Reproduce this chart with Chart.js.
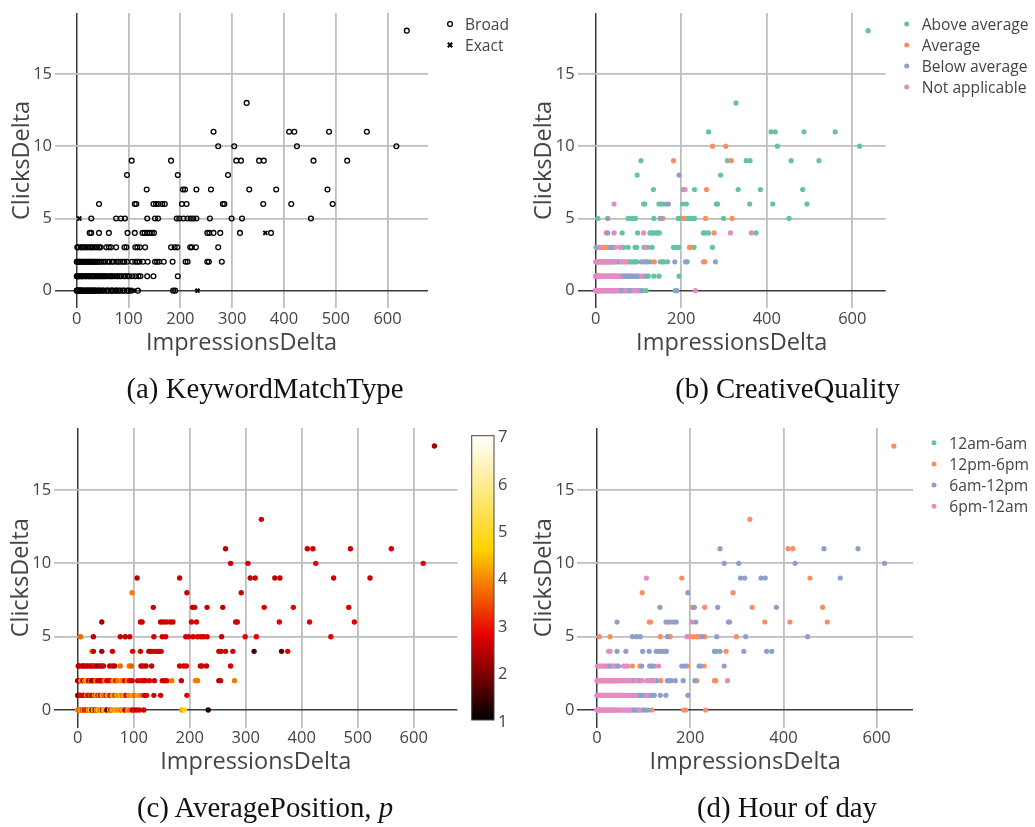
<!DOCTYPE html>
<html>
<head>
<meta charset="utf-8">
<script src="https://cdn.jsdelivr.net/npm/chart.js@4.4.1/dist/chart.umd.min.js"></script>
<style>
  html, body { margin: 0; padding: 0; background: #fff; }
  body { width: 1035px; height: 827px; position: relative; overflow: hidden; }
  canvas { position: absolute; }
  #overlay { position: absolute; left: 0; top: 0; pointer-events: none; }
</style>
</head>
<body>
<canvas id="chartA"></canvas>
<canvas id="chartB"></canvas>
<canvas id="chartC"></canvas>
<canvas id="chartD"></canvas>
<svg id="overlay" width="1035" height="827" xmlns="http://www.w3.org/2000/svg"></svg>
<script>
// ---------------------------------------------------------------------------
// Observations (one per keyword/interval), grouped by click count, 10 per block
// ---------------------------------------------------------------------------
const impressions = [
  637,
  328,
  264, 410, 420, 487, 560,
  273, 304, 425, 617,
  106, 182, 308, 317, 352, 361, 457, 522,
  97, 195, 292,
  135, 205, 209, 231, 259, 333, 385, 484,
  43, 112, 115, 148, 153, 158, 165, 170, 203, 212,  282, 285, 360, 414, 494,
  5, 28, 76, 85, 93, 136, 151, 157, 193, 198,  206, 214, 220, 225, 231, 257, 299, 319, 452,
  25, 28, 43, 62, 98, 112, 127, 131, 136, 141,  145, 149, 252, 256, 264, 277, 315, 364, 375,
  1, 3, 8, 10, 14, 17, 21, 25, 28, 31,  35, 39, 43, 46, 57, 62, 66, 76, 92, 96,
  113, 117, 122, 132, 182, 189, 194, 219, 222, 230,  273,
  0, 1, 2, 3, 5, 6, 9, 10, 13, 15,  16, 19, 21, 23, 24, 27, 29, 31, 33, 35,
  38, 40, 43, 44, 48, 52, 55, 60, 63, 68,  71, 77, 80, 84, 89, 92, 97, 107, 113, 117,
  121, 128, 137, 151, 155, 159, 168, 185, 210, 214,  252, 255, 280,
  0, 0.5, 1, 2, 3, 4, 5, 7, 8, 10,  11, 13, 16, 18, 19, 22, 24, 25, 28, 30,
  32, 33, 36, 38, 41, 42, 44, 47, 48, 51,  53, 55, 58, 62, 64, 67, 69, 73, 77, 79,
  83, 86, 91, 94, 98, 101, 107, 113, 119, 123,  136, 148, 195,
  0, 0.5, 1, 2, 3, 4, 6, 7, 9, 10,  12, 15, 16, 19, 21, 22, 25, 27, 28, 31,
  33, 35, 36, 39, 42, 44, 46, 50, 52, 57,  59, 61, 66, 68, 70, 75, 77, 81, 84, 89,
  91, 97, 100, 105, 110, 118, 186, 190, 233
];

const clicks = [
  18,
  13,
  11, 11, 11, 11, 11,
  10, 10, 10, 10,
  9, 9, 9, 9, 9, 9, 9, 9,
  8, 8, 8,
  7, 7, 7, 7, 7, 7, 7, 7,
  6, 6, 6, 6, 6, 6, 6, 6, 6, 6,  6, 6, 6, 6, 6,
  5, 5, 5, 5, 5, 5, 5, 5, 5, 5,  5, 5, 5, 5, 5, 5, 5, 5, 5,
  4, 4, 4, 4, 4, 4, 4, 4, 4, 4,  4, 4, 4, 4, 4, 4, 4, 4, 4,
  3, 3, 3, 3, 3, 3, 3, 3, 3, 3,  3, 3, 3, 3, 3, 3, 3, 3, 3, 3,
  3, 3, 3, 3, 3, 3, 3, 3, 3, 3,  3,
  2, 2, 2, 2, 2, 2, 2, 2, 2, 2,  2, 2, 2, 2, 2, 2, 2, 2, 2, 2,
  2, 2, 2, 2, 2, 2, 2, 2, 2, 2,  2, 2, 2, 2, 2, 2, 2, 2, 2, 2,
  2, 2, 2, 2, 2, 2, 2, 2, 2, 2,  2, 2, 2,
  1, 1, 1, 1, 1, 1, 1, 1, 1, 1,  1, 1, 1, 1, 1, 1, 1, 1, 1, 1,
  1, 1, 1, 1, 1, 1, 1, 1, 1, 1,  1, 1, 1, 1, 1, 1, 1, 1, 1, 1,
  1, 1, 1, 1, 1, 1, 1, 1, 1, 1,  1, 1, 1,
  0, 0, 0, 0, 0, 0, 0, 0, 0, 0,  0, 0, 0, 0, 0, 0, 0, 0, 0, 0,
  0, 0, 0, 0, 0, 0, 0, 0, 0, 0,  0, 0, 0, 0, 0, 0, 0, 0, 0, 0,
  0, 0, 0, 0, 0, 0, 0, 0, 0
];

// Average ad position of each observation
const avgPosition = [
  2.3,
  2.7,
  2.5, 2.6, 2.6, 2.6, 2.7,
  2.6, 2.7, 2.8, 2.8,
  2.5, 2.6, 2.5, 2.6, 2.5, 2.6, 2.7, 2.6,
  3.9, 2.6, 2.6,
  2.6, 2.5, 2.6, 2.6, 2.5, 2.7, 2.8, 2.7,
  2.3, 2.7, 2.6, 2.5, 2.6, 2.6, 2.7, 2.6, 2.7, 2.7,  2.7, 2.6, 2.8, 2.8, 2.8,
  3.7, 2.5, 2.6, 2.5, 2.6, 2.7, 2.6, 2.7, 2.6, 2.7,  2.6, 2.7, 2.6, 2.6, 2.7, 2.6, 2.8, 2.8, 2.8,
  4.0, 2.6, 2.3, 2.6, 2.7, 2.7, 2.6, 2.5, 2.7, 2.6,  2.7, 2.6, 2.6, 2.7, 2.6, 2.7, 1.6, 1.7, 2.8,
  2.3, 2.5, 2.6, 2.4, 2.7, 2.5, 2.6, 2.4, 2.6, 2.9,  1.9, 2.6, 2.5, 2.7, 2.6, 2.7, 2.5, 3.7, 3.8, 3.6,
  2.6, 2.7, 2.5, 2.6, 2.7, 2.6, 2.7, 2.6, 2.7, 2.6,  2.7,
  1.8, 2.4, 2.6, 2.2, 2.7, 4.3, 2.8, 2.6, 4.5, 2.7,  4.8, 2.5, 2.8, 4.2, 2.6, 1.6, 2.7, 2.5, 4.6, 2.7,
  2.4, 2.8, 1.9, 2.7, 3.9, 2.6, 2.8, 2.6, 4.1, 2.7,  3.8, 4.0, 3.9, 2.7, 4.2, 2.8, 2.6, 2.7, 2.8, 2.7,
  2.6, 2.7, 2.6, 2.7, 2.6, 2.7, 3.8, 2.6, 3.9, 3.8,  2.5, 2.6, 3.8,
  1.5, 2.2, 2.8, 1.3, 2.7, 2.5, 2.8, 2.6, 2.9, 2.4,  2.8, 2.7, 4.2, 2.6, 2.9, 2.7, 4.5, 2.5, 2.8, 4.0,
  2.7, 4.3, 2.6, 3.9, 2.8, 2.6, 4.7, 2.7, 3.8, 2.6,  4.4, 4.1, 2.7, 4.6, 3.9, 2.7, 4.2, 4.0, 4.5, 3.8,
  4.3, 2.8, 4.1, 3.9, 4.4, 3.7, 4.2, 3.8, 2.6, 2.7,  2.7, 2.6, 2.7,
  5.0, 4.8, 2.6, 4.6, 2.2, 4.9, 2.7, 4.4, 2.5, 4.7,  2.8, 4.3, 2.7, 4.6, 2.4, 4.8, 2.6, 1.7, 4.5, 1.9,
  4.2, 2.7, 4.6, 3.9, 4.3, 2.6, 4.4, 4.1, 1.8, 4.5,  2.5, 4.2, 3.9, 4.6, 4.0, 4.3, 3.8, 4.4, 2.7, 4.1,
  3.9, 2.6, 2.8, 2.5, 2.7, 2.7, 4.2, 4.6, 1.3
];

// Category codes, one digit per observation (same order as above)
const matchTypes = ['Broad', 'Exact'];
const matchTypeCode = [
  '0', '0', '00000', '0000', '00000000', '000', '00000000', '0000000000 00000',
  '1000000000 000000000',
  '0000000000 000000010',
  '0000000000 0000000000 0000000000 0',
  '0000000000 0000000000 0000000000 0000000000 0000000000 000',
  '0000000000 0000000000 0000000000 0000000000 0000000000 000',
  '0000000000 0000000000 0000000000 0000000000 000010001'
];

const qualityLevels = ['Above average', 'Average', 'Below average', 'Not applicable'];
const qualityCode = [
  '0', '0', '00000', '1100', '01010000', '020', '00301000', '3000002200 00000',
  '0200002100 100001010',
  '1230030000 000001330',
  '0033010100 2003300000 0300000110 0',
  '1303103013 0203103020 3013020301 3000000222 2010000220 112',
  '3313033233 0331323303 3233033233 3322202222 2220223200 000',
  '3331330333 2333133332 3333232322 2122322223 232200023'
];

const hourBands = ['12am-6am', '12pm-6pm', '6am-12pm', '6pm-12am'];
const hourCode = [
  '1', '1', '21122', '2222', '31222212', '121', '21212121', '2112212232 21111',
  '1122212131 111212122',
  '3322222212 222221222',
  '3233331222 3122333112 2223221221 2',
  '3323331333 2331332333 1333231332 3213123332 3212222221 113',
  '3333033333 3333333313 3333333333 3333333333 3222223222 222',
  '3333330333 3333333333 3333333333 3333322222 322221111'
];

// Axis ticks and the colour-bar scale
const xTicksWide = [0, 100, 200, 300, 400, 500, 600];
const xTicksNarrow = [0, 200, 400, 600];
const yTicks = [0, 5, 10, 15];
const positionRange = [1, 7];
const colorbarTicks = [1, 2, 3, 4, 5, 6, 7];

// ---------------------------------------------------------------------------
const decode = parts => parts.join('').replace(/\s/g, '').split('').map(Number);
const matchType = decode(matchTypeCode);
const quality = decode(qualityCode);
const hour = decode(hourCode);

const X_RANGE = [-42, 678];
const Y_RANGE = [-1.2, 19.23];
const SET2 = ['#66c2a5', '#fc8d62', '#8da0cb', '#e78ac3'];
const HOT = [[0, [0, 0, 0]], [0.3, [230, 0, 0]], [0.6, [255, 210, 0]], [1, [255, 255, 255]]];
const AXIS_TEXT = '#444';
const TICK_FONT = { family: "'Open Sans'", size: 16.5 };
const TITLE_FONT = { family: "'Open Sans'", size: 23.5 };
const LEGEND_SIZE = 15.6;

function hotColor(v) {
  const t = Math.min(1, Math.max(0, (v - positionRange[0]) / (positionRange[1] - positionRange[0])));
  for (let i = 1; i < HOT.length; i++) {
    const [t0, c0] = HOT[i - 1];
    const [t1, c1] = HOT[i];
    if (t <= t1) {
      const f = (t - t0) / (t1 - t0);
      return 'rgb(' + c0.map((c, k) => Math.round(c + (c1[k] - c) * f)).join(',') + ')';
    }
  }
  return 'rgb(255,255,255)';
}

const idx = impressions.map((_, i) => i);
const point = i => ({ x: impressions[i], y: clicks[i] });

// Panel geometry: canvas box and plot rectangle, page pixels
const panels = {
  A: { left: 0,   top: 0,   width: 440, height: 370, plot: { l: 55,    t: 8,   r: 428,   b: 308 } },
  B: { left: 520, top: 0,   width: 380, height: 370, plot: { l: 577.7, t: 8,   r: 885.7, b: 308 } },
  C: { left: 0,   top: 415, width: 470, height: 370, plot: { l: 54.2,  t: 428, r: 457.4, b: 727.6 } },
  D: { left: 520, top: 415, width: 400, height: 370, plot: { l: 577.4, t: 428, r: 913,   b: 727.6 } }
};

function buildOptions(p, xTicks) {
  const wy = p.plot.l - p.left;
  const hx = p.top + p.height - p.plot.b;
  const padT = p.plot.t - p.top;
  const padR = p.left + p.width - p.plot.r;
  const titleLH = TITLE_FONT.size * 1.2;
  const gridColor = c => (c.tick && c.tick.value === 0 ? '#3a3a3a' : '#bebebe');
  const gridWidth = c => (c.tick && c.tick.value === 0 ? 1.5 : 1.8);
  return {
    responsive: false,
    animation: false,
    events: [],
    layout: { padding: { left: 0, top: padT, right: padR, bottom: 0 } },
    plugins: { legend: { display: false }, tooltip: { enabled: false } },
    scales: {
      x: {
        type: 'linear', min: X_RANGE[0], max: X_RANGE[1],
        afterBuildTicks: s => { s.ticks = xTicks.map(v => ({ value: v })); },
        afterFit: s => { s.height = hx; },
        grid: { drawTicks: false, color: gridColor, lineWidth: gridWidth },
        border: { display: false },
        ticks: { padding: 1, color: AXIS_TEXT, font: TICK_FONT, maxRotation: 0, autoSkip: false },
        title: { display: true, text: 'ImpressionsDelta', color: AXIS_TEXT, font: TITLE_FONT,
                 padding: { top: 0, bottom: hx - 35 - titleLH / 2 } }
      },
      y: {
        type: 'linear', min: Y_RANGE[0], max: Y_RANGE[1],
        afterBuildTicks: s => { s.ticks = yTicks.map(v => ({ value: v })); },
        afterFit: s => { s.width = wy; },
        grid: { drawTicks: false, color: gridColor, lineWidth: gridWidth },
        border: { display: false },
        ticks: { padding: 3, color: AXIS_TEXT, font: TICK_FONT, autoSkip: false },
        title: { display: true, text: 'ClicksDelta', color: AXIS_TEXT, font: TITLE_FONT,
                 padding: { top: wy - 33 - titleLH / 2, bottom: 0 } }
      }
    }
  };
}

function makeChart(id, key, datasets, xTicks) {
  const p = panels[key];
  const cv = document.getElementById(id);
  cv.width = p.width; cv.height = p.height;
  cv.style.left = p.left + 'px'; cv.style.top = p.top + 'px';
  cv.style.width = p.width + 'px'; cv.style.height = p.height + 'px';
  return new Chart(cv, { type: 'scatter', data: { datasets }, options: buildOptions(p, xTicks) });
}

// (a) keyword match type: open circles and crosses
makeChart('chartA', 'A', [
  { label: matchTypes[1], order: 0, data: idx.filter(i => matchType[i] === 1).map(point),
    pointStyle: 'crossRot', pointRadius: 2.8, pointBorderWidth: 2,
    pointBorderColor: '#000', pointBackgroundColor: '#000' },
  { label: matchTypes[0], order: 1, data: idx.filter(i => matchType[i] === 0).map(point),
    pointStyle: 'circle', pointRadius: 2.4, pointBorderWidth: 1.3,
    pointBorderColor: '#000', pointBackgroundColor: 'rgba(0,0,0,0)' }
], xTicksWide);

// Categorical panels: later categories are drawn on top
function categoryDatasets(codes, names) {
  return names.map((name, k) => ({
    label: name, order: names.length - 1 - k,
    data: idx.filter(i => codes[i] === k).map(point),
    pointStyle: 'circle', pointRadius: 2.6, pointBorderWidth: 0,
    pointBackgroundColor: SET2[k], pointBorderColor: SET2[k]
  }));
}

makeChart('chartB', 'B', categoryDatasets(quality, qualityLevels), xTicksNarrow);

// (c) average position on a continuous colour scale
makeChart('chartC', 'C', [
  { label: 'AveragePosition', data: idx.map(point),
    pointStyle: 'circle', pointRadius: 2.7, pointBorderWidth: 0,
    pointBackgroundColor: idx.map(i => hotColor(avgPosition[i])) }
], xTicksWide);

makeChart('chartD', 'D', categoryDatasets(hour, hourBands), xTicksNarrow);

// ---------------------------------------------------------------------------
// Legends, colour bar and sub-figure captions
// ---------------------------------------------------------------------------
const NS = 'http://www.w3.org/2000/svg';
const svg = document.getElementById('overlay');
function el(tag, attrs, parent) {
  const e = document.createElementNS(NS, tag);
  for (const k in attrs) e.setAttribute(k, attrs[k]);
  (parent || svg).appendChild(e);
  return e;
}
function label(x, y, text, attrs) {
  const t = el('text', Object.assign({ x, y, fill: AXIS_TEXT, 'font-family': 'Open Sans',
    'font-size': LEGEND_SIZE, 'dominant-baseline': 'central' }, attrs || {}));
  t.textContent = text;
  return t;
}

// (a) legend
el('circle', { cx: 450, cy: 24, r: 2.4, fill: 'none', stroke: '#000', 'stroke-width': 1.3 });
label(465, 24, matchTypes[0]);
el('path', { d: 'M447.8 42.8 L452.2 47.2 M452.2 42.8 L447.8 47.2', stroke: '#000', 'stroke-width': 2 });
label(465, 45, matchTypes[1]);

// (b) and (d) legends
function categoryLegend(names, mx, tx, y0, dy) {
  names.forEach((name, k) => {
    el('circle', { cx: mx, cy: y0 + k * dy, r: 2.5, fill: SET2[k] });
    label(tx, y0 + k * dy, name);
  });
}
categoryLegend(qualityLevels, 906.7, 921.7, 24, 21);
categoryLegend(hourBands, 934, 949.3, 442.7, 21.2);

// (c) colour bar
const defs = el('defs', {});
const grad = el('linearGradient', { id: 'hotScale', x1: 0, y1: 1, x2: 0, y2: 0 }, defs);
HOT.forEach(([t, c]) => el('stop', { offset: t, 'stop-color': 'rgb(' + c.join(',') + ')' }, grad));
const cb = { x: 471.7, y: 435.7, w: 22.3, h: 284.3 };
el('rect', { x: cb.x, y: cb.y, width: cb.w, height: cb.h, fill: 'url(#hotScale)', stroke: '#444', 'stroke-width': 1 });
colorbarTicks.forEach(v => {
  const y = cb.y + cb.h - (v - positionRange[0]) / (positionRange[1] - positionRange[0]) * cb.h;
  label(498, y, String(v), { 'font-size': 16.5 });
});

// captions
function caption(cx, baseline, parts) {
  const t = el('text', { x: cx, y: baseline, 'text-anchor': 'middle', fill: '#111',
    'font-family': 'Liberation Serif', 'font-size': 28.8 });
  parts.forEach(([s, italic]) => {
    const sp = el('tspan', italic ? { 'font-style': 'italic' } : {}, t);
    sp.textContent = s;
  });
}
caption(265, 398, [['(a) KeywordMatchType']]);
caption(787.5, 398, [['(b) CreativeQuality']]);
caption(265, 817, [['(c) AveragePosition, '], ['p', true]]);
caption(787, 817, [['(d) Hour of day']]);
</script>
</body>
</html>
